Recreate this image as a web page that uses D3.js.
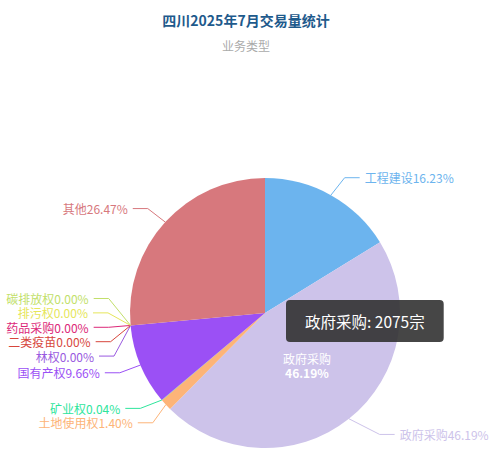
<!DOCTYPE html>
<html>
<head>
<meta charset="utf-8">
<script src="https://cdn.jsdelivr.net/npm/d3@7"></script>
<style>
  body { margin: 0; background: #fff; }
  svg { display: block; font-family: "Noto Sans CJK SC", "Noto Sans", sans-serif; }
</style>
</head>
<body>
<div id="container"></div>
<script>
/* DATA */
const names = ["工程建设", "政府采购", "土地使用权", "矿业权", "国有产权", "林权", "二类疫苗", "药品采购", "排污权", "碳排放权", "其他"];
const counts = [729, 2075, 63, 2, 434, 0, 0, 0, 0, 0, 1189];
const colors = ["#6cb4ee", "#cdc3ea", "#fdb478", "#2ee59c", "#9b50f5", "#9a5ae0", "#d7463c", "#dc2878", "#e6e65a", "#c2df6a", "#d7787d"];
const titleText = "四川2025年7月交易量统计";
const subText = "业务类型";
const hovered = "政府采购";
const unit = "宗";

/* CONSTANTS */
const width = 492, height = 457;
const cx = 265, cy = 313, r = 135;
const len1 = 20, len2 = 15, gap = 5, lineH = 14.4;

const data = names.map((name, i) => ({ name, count: counts[i], color: colors[i], index: i }));
const total = d3.sum(counts);
const pct = v => d3.format(".2f")(v / total * 100) + "%";

const svg = d3.select("#container")
    .append("svg")
    .attr("width", width)
    .attr("height", height);

// TITLE
svg.append("text")
    .attr("x", width / 2).attr("y", 20)
    .attr("text-anchor", "middle").attr("dominant-baseline", "central")
    .attr("font-size", 14).attr("font-weight", "bold")
    .attr("fill", "#1e5a8c")
    .text(titleText);
svg.append("text")
    .attr("x", width / 2).attr("y", 45)
    .attr("text-anchor", "middle").attr("dominant-baseline", "central")
    .attr("font-size", 12)
    .attr("fill", "#aaa")
    .text(subText);

// PIE
const pie = d3.pie().sort(null).value(d => d.count);
const arcs = pie(data);
const arcGen = d3.arc().innerRadius(0).outerRadius(r);

const g = svg.append("g").attr("transform", `translate(${cx},${cy})`);
g.selectAll("path.slice")
    .data(arcs)
    .join("path")
    .attr("class", "slice")
    .attr("d", arcGen)
    .attr("fill", d => d.data.color);

// LABEL LAYOUT
arcs.forEach(d => {
    const a = (d.startAngle + d.endAngle) / 2;
    d.dx = Math.sin(a);
    d.dy = -Math.cos(a);
    d.dir = d.dx < 0 ? -1 : 1;
    d.edge = [cx + r * d.dx, cy + r * d.dy];
    d.natY = cy + (r + len1) * d.dy;
});

function resolve(list) {
    // push labels down, then balance each pushed run back towards its natural spot
    const blocks = [];
    list.forEach(item => {
        blocks.push({ items: [item], first: item.natY });
        while (blocks.length > 1) {
            const prev = blocks[blocks.length - 2];
            const cur = blocks[blocks.length - 1];
            if (prev.first + prev.items.length * lineH <= cur.first) break;
            const items = prev.items.concat(cur.items);
            const first = d3.mean(items, (it, k) => it.natY - k * lineH);
            blocks.splice(blocks.length - 2, 2, { items, first });
        }
    });
    blocks.forEach(b => b.items.forEach((it, k) => { it.y = b.first + k * lineH; }));
}

const left = arcs.filter(d => d.dir < 0).sort((a, b) => a.natY - b.natY || b.index - a.index);
const right = arcs.filter(d => d.dir > 0).sort((a, b) => a.natY - b.natY || a.index - b.index);
resolve(left);
resolve(right);

arcs.forEach(d => {
    const R = r + len1 + 2 + (d.data.name === hovered ? 10 : 0);
    const ddy = d.y - cy;
    const ddx = R * R > ddy * ddy ? Math.sqrt(R * R - ddy * ddy) : Math.abs(d.edge[0] - cx);
    d.bend = [cx + d.dir * ddx, d.y];
    d.end = [d.bend[0] + d.dir * len2, d.y];
});

svg.selectAll("polyline.label-line")
    .data(arcs)
    .join("polyline")
    .attr("class", "label-line")
    .attr("points", d => [d.edge, d.bend, d.end].map(p => p.join(",")).join(" "))
    .attr("fill", "none")
    .attr("stroke", d => d.data.color)
    .attr("stroke-width", 1);

svg.selectAll("text.label")
    .data(arcs)
    .join("text")
    .attr("class", "label")
    .attr("x", d => d.end[0] + d.dir * gap)
    .attr("y", d => d.y)
    .attr("text-anchor", d => d.dir < 0 ? "end" : "start")
    .attr("dominant-baseline", "central")
    .attr("font-size", 12)
    .attr("fill", d => d.data.color)
    .text(d => d.data.name + pct(d.data.count));

// EMPHASIS LABEL INSIDE HOVERED SLICE
const hov = arcs.find(d => d.data.name === hovered);
const inner = [cx + r / 2 * hov.dx, cy + r / 2 * hov.dy];
const inside = svg.append("text")
    .attr("text-anchor", "middle")
    .attr("font-size", 12)
    .attr("fill", "#fff");
inside.append("tspan").attr("x", inner[0]).attr("y", inner[1] - 7)
    .attr("dominant-baseline", "central").text(hov.data.name);
inside.append("tspan").attr("x", inner[0]).attr("y", inner[1] + 7)
    .attr("dominant-baseline", "central").attr("font-weight", "bold").text(pct(hov.data.count));

// TOOLTIP
const tip = svg.append("g").attr("transform", "translate(286,300)");
const tipRect = tip.append("rect")
    .attr("rx", 4).attr("ry", 4)
    .attr("height", 42)
    .attr("fill", "rgba(50,50,50,0.9)");
const tipText = tip.append("text")
    .attr("x", 19).attr("y", 21)
    .attr("dominant-baseline", "central")
    .attr("font-size", 15.5)
    .attr("fill", "#fff")
    .text(`${hov.data.name}: ${hov.data.count}${unit}`);
tipRect.attr("width", tipText.node().getComputedTextLength() + 38);
</script>
</body>
</html>
